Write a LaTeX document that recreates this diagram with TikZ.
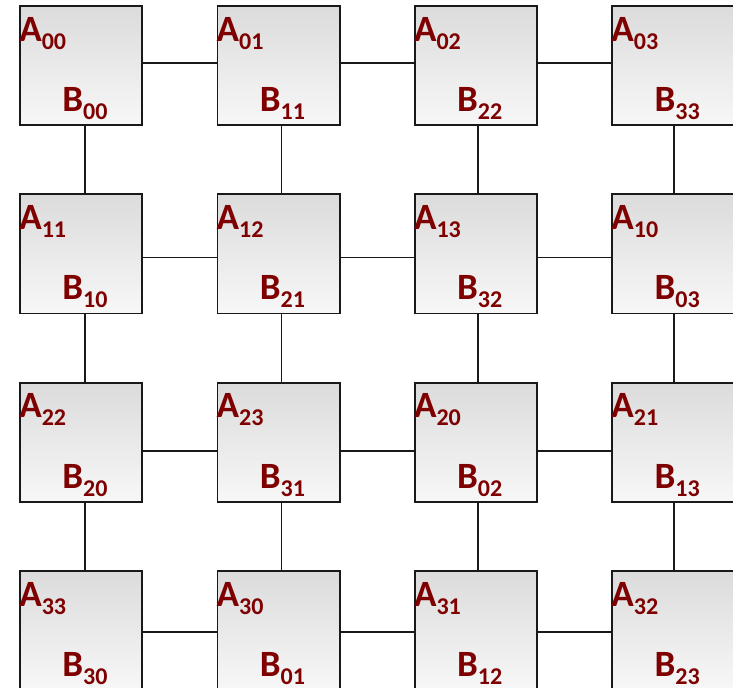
\documentclass[tikz,border=0pt]{standalone}
\usepackage{fontspec}
\setmainfont{Carlito}
\definecolor{lblred}{HTML}{7F0000}
\newcommand\lab[2]{#1{\fontsize{24}{24}\selectfont\raisebox{-8pt}{#2}}}
\begin{document}
\begin{tikzpicture}[x=1pt,y=-1pt,
 cell/.style={draw=black!90,line width=1.8pt,top color=black!14,bottom color=black!3,minimum width=122pt,minimum height=119pt,inner sep=0pt},
 lbl/.style={text=lblred,font=\bfseries\fontsize{37}{37}\selectfont,inner sep=0pt,anchor=base west},
 link/.style={line width=1.8pt,draw=black!90}]
\useasboundingbox (0,0) rectangle (731.6,686.6);
\clip (0,0) rectangle (731.6,686.6);
\foreach \r in {0,...,3}
  \foreach \c in {0,...,3}
    \node[cell] (b\r\c) at ({81+197*\c},{65.5+188*\r}) {};
\foreach \r/\c/\a/\b in {0/0/00/00,0/1/01/11,0/2/02/22,0/3/03/33,
                         1/0/11/10,1/1/12/21,1/2/13/32,1/3/10/03,
                         2/0/22/20,2/1/23/31,2/2/20/02,2/3/21/13,
                         3/0/33/30,3/1/30/01,3/2/31/12,3/3/32/23} {
  \node[lbl] (la\r\c) at ([yshift=-36pt]b\r\c.north west) {\lab{A}{\a}};
  \node[lbl] (lb\r\c) at ([xshift=43pt,yshift=-106pt]b\r\c.north west) {\lab{B}{\b}};
}
\foreach \r/\dy in {0/2.5,1/-3.5,2/-8.5,3/-1.5}
  \foreach \c/\n in {0/1,1/2,2/3}
    \draw[link] ([yshift=\dy pt]b\r\c.east) -- ([yshift=\dy pt]b\r\n.west);
\foreach \c/\dx in {0/4,1/3,2/2,3/1}
  \foreach \r/\n in {0/1,1/2,2/3}
    \draw[link] ([xshift=\dx pt]b\r\c.south) -- ([xshift=\dx pt]b\n\c.north);
\end{tikzpicture}
\end{document}
